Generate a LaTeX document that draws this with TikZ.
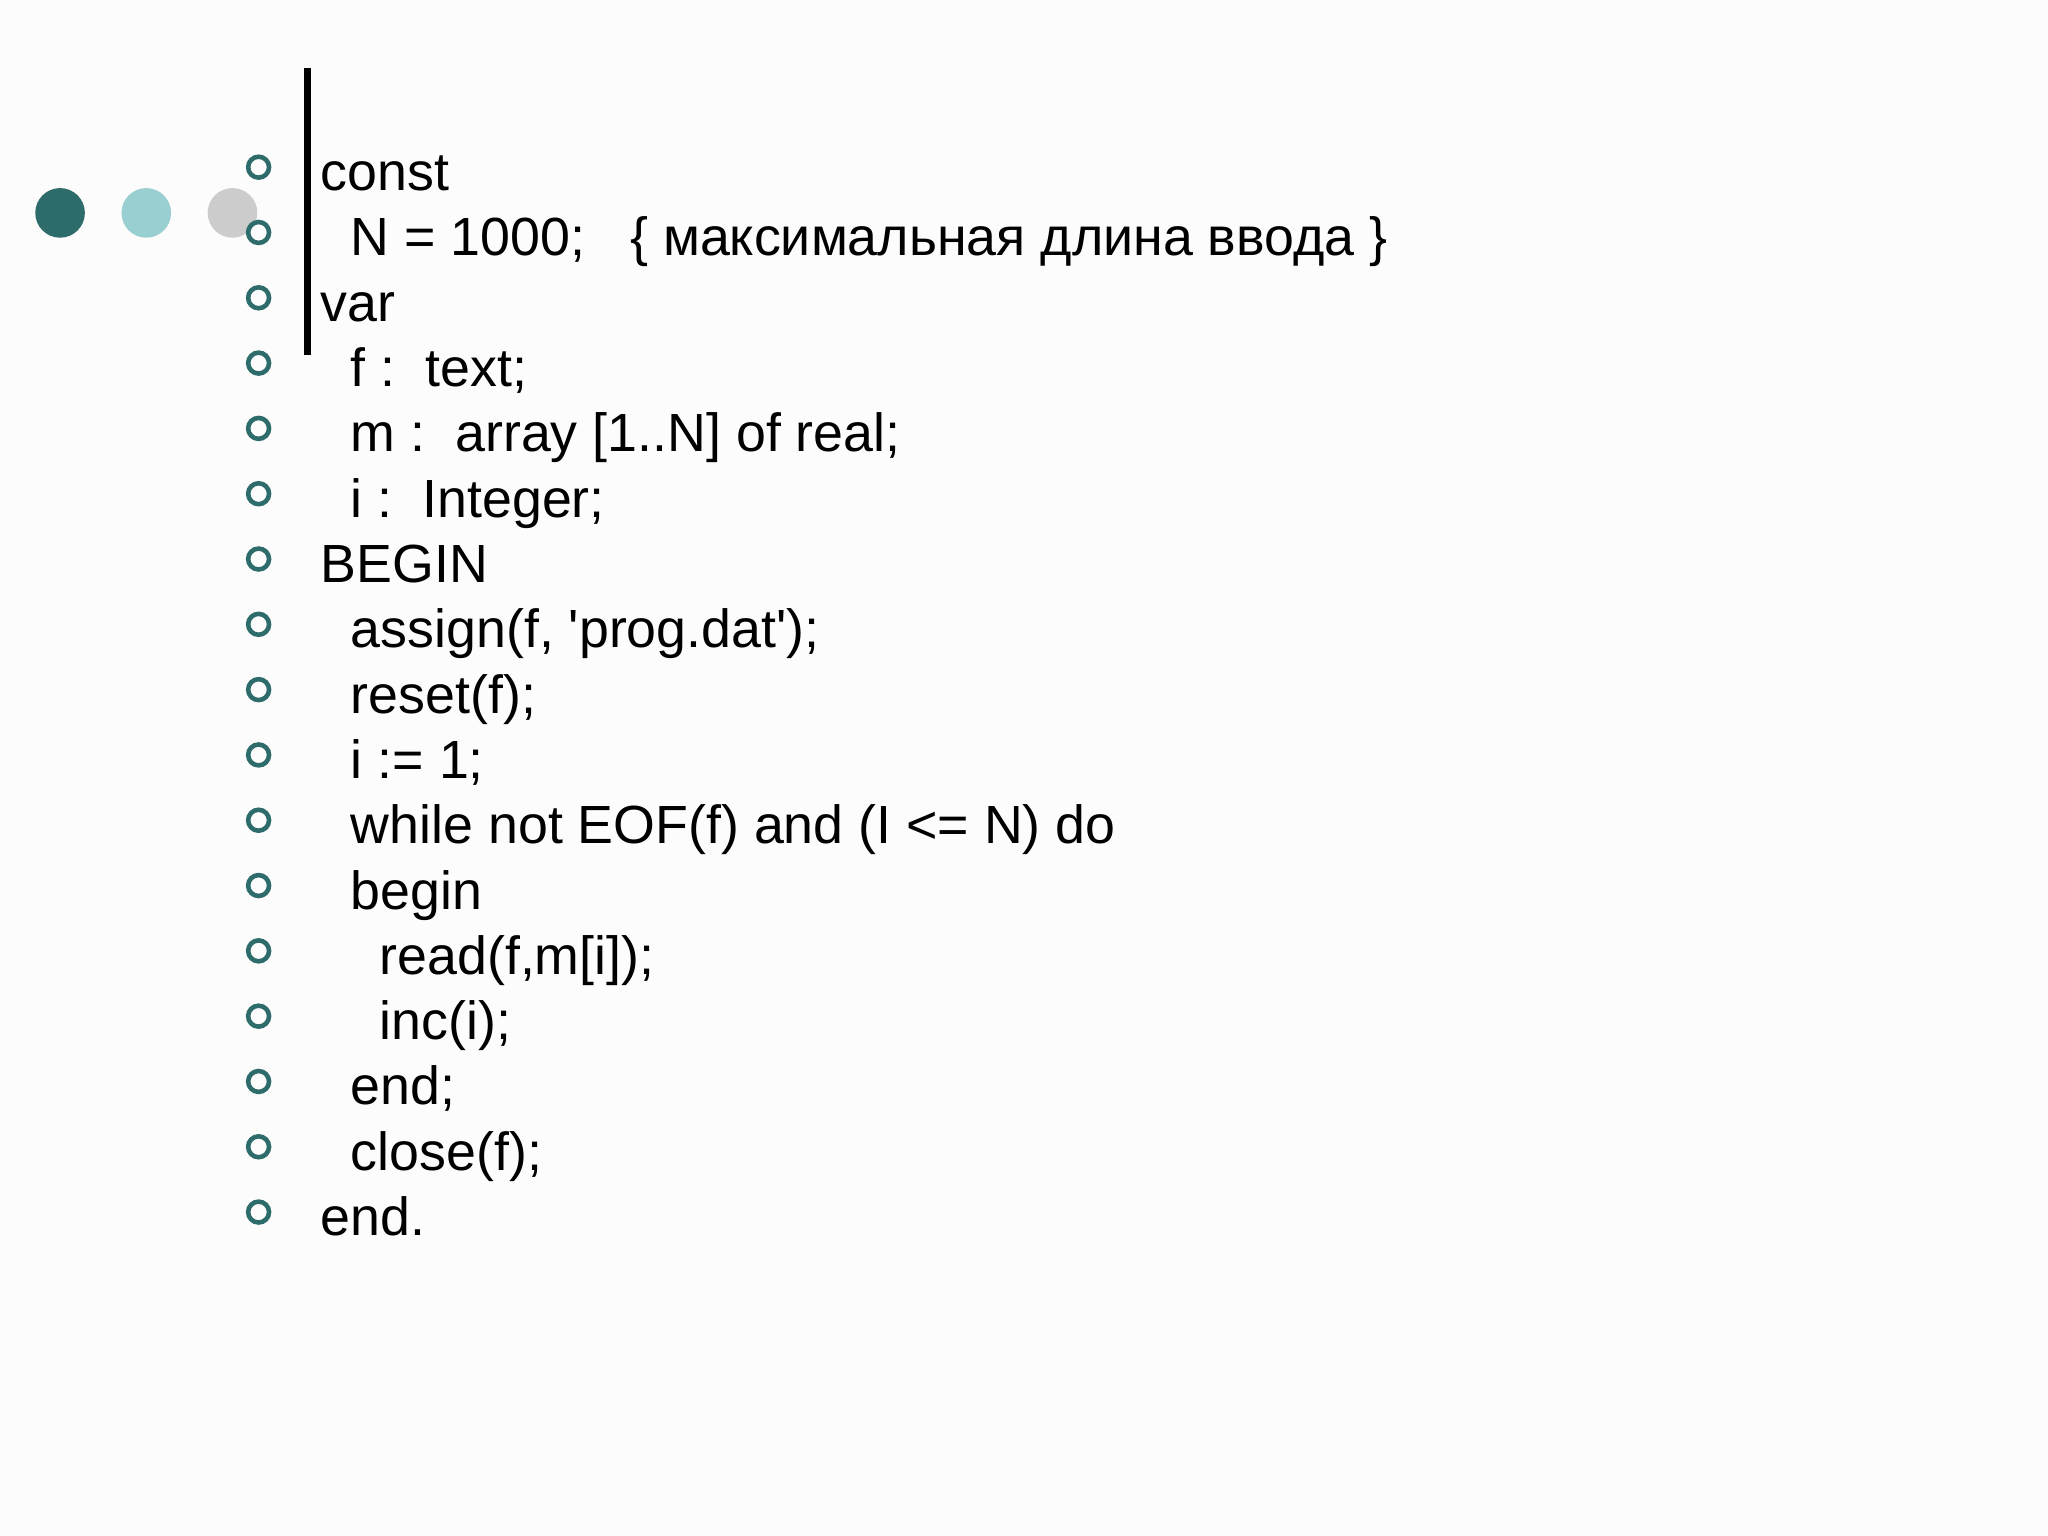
\documentclass[tikz,border=0pt]{standalone}
\usepackage{fontspec}
\setmainfont{Liberation Sans}
\definecolor{teal1}{HTML}{2E6B6B}
\definecolor{teal2}{HTML}{99CFD0}
\definecolor{grey1}{HTML}{CCCCCC}
\definecolor{bg}{HTML}{FCFCFC}
\tikzset{bul/.style={circle,draw=teal1,line width=0.035cm,minimum size=0.16cm,inner sep=0pt},
 code/.style={anchor=base west,inner sep=0pt,font=\fontsize{11.7}{14}\selectfont}}
\begin{document}
\begin{tikzpicture}[x=0.01cm,y=-0.01cm]
\fill[bg] (0,0) rectangle (1568,1176);
\useasboundingbox (0,0) rectangle (1568,1176);
\fill[teal1] (46,163) circle (19);
\fill[teal2] (112,163) circle (19);
\fill[grey1] (178,163) circle (19);
\fill[black] (233,52) rectangle (238,272);
\foreach \i/\x/\t in {0/245/const,1/268/{N = 1000;\ \ \ \{ максимальная длина ввода \}},2/245/var,3/268/{f :\ \ text;},4/268/{m :\ \ array [1..N] of real;},5/268/{i :\ \ Integer;},6/245/BEGIN,7/268/{assign(f, \textquotesingle prog.dat\textquotesingle);},8/268/{reset(f);},9/268/{i := 1;},10/268/{while not EOF(f) and (I <= N) do},11/268/begin,12/290/{read(f,m[i]);},13/290/{inc(i);},14/268/{end;},15/268/{close(f);},16/245/{end.}}{
 \node[bul] (b\i) at (198,{128+50*\i}) {};
 \node[code] (t\i) at (\x,{146+50*\i}) {\t};
}
\end{tikzpicture}
\end{document}
